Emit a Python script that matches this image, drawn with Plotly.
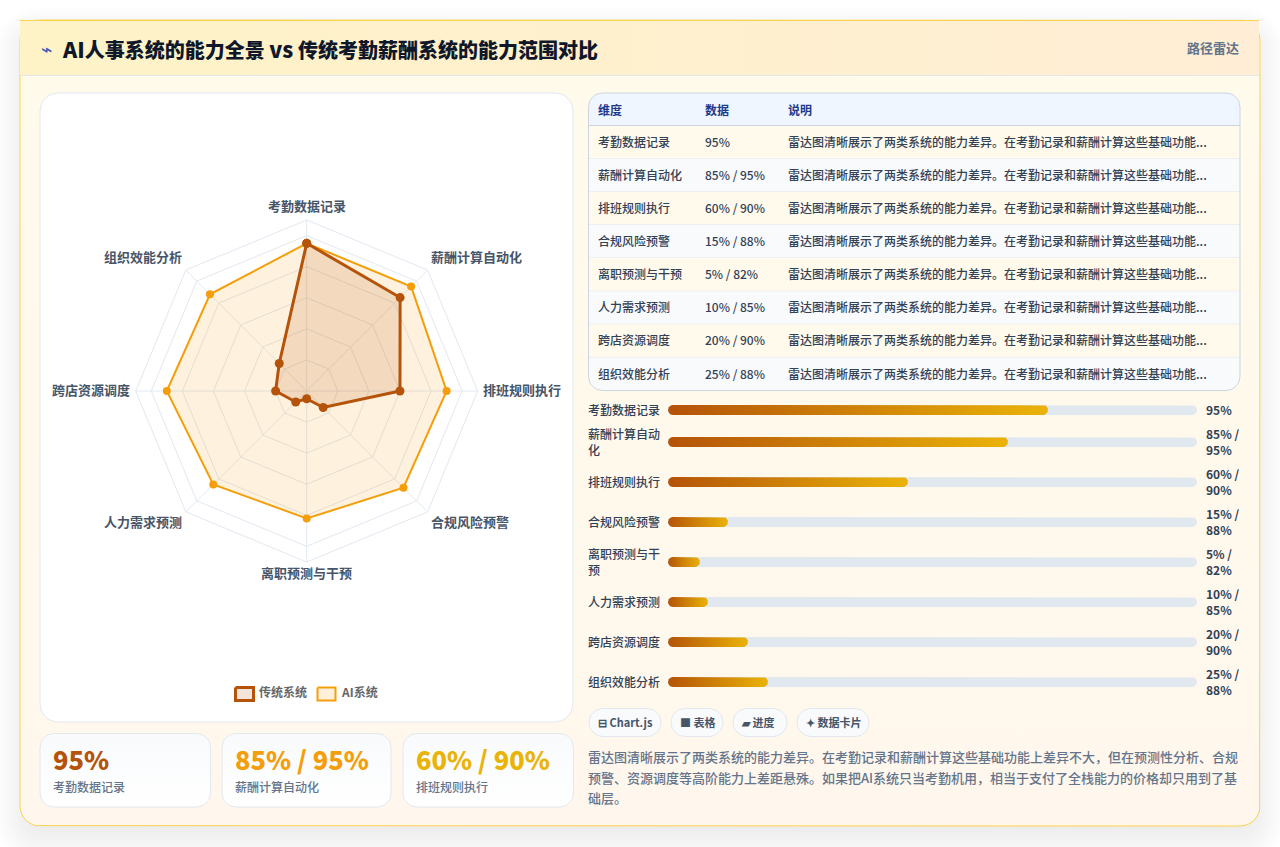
import math
import plotly.graph_objects as go

# Chart data
CATEGORIES = ["考勤数据记录", "薪酬计算自动化", "排班规则执行", "合规风险预警",
              "离职预测与干预", "人力需求预测", "跨店资源调度", "组织效能分析"]
TRADITIONAL = [95, 85, 60, 15, 5, 10, 20, 25]
AI_SYSTEM = [95, 95, 90, 88, 82, 85, 90, 88]
SERIES_NAMES = ["传统系统", "AI系统"]
# the Latin runs are set a touch larger so they balance the CJK weight
TITLE = ('<span style="font-size:21.5px">AI</span>人事系统的能力全景 '
         '<span style="font-size:21.5px">vs</span> 传统考勤薪酬系统的能力范围对比')
BADGE = "路径雷达"
TABLE_HEADERS = ["维度", "数据", "说明"]
NOTE_SHORT = "雷达图清晰展示了两类系统的能力差异。在考勤记录和薪酬计算这些基础功能..."
PARAGRAPH = ["雷达图清晰展示了两类系统的能力差异。在考勤记录和薪酬计算这些基础功能上差异不大，但在预测性分析、合规",
             "预警、资源调度等高阶能力上差距悬殊。如果把AI系统只当考勤机用，相当于支付了全栈能力的价格却只用到了基",
             "础层。"]
CHIPS = [("⊟", "Chart.js"), ("■", "表格"), ("▰", "进度"), ("✦", "数据卡片")]

FONT = "Noto Sans CJK SC"
W, H = 1280, 847
BROWN, ORANGE, YELLOW = "#b45309", "#f59e0b", "#eab308"

VALUE_LABELS = [f"{a}%" if a == b else f"{a}% / {b}%" for a, b in zip(TRADITIONAL, AI_SYSTEM)]
# progress bars wrap their long labels onto two lines
BAR_NAMES = ["考勤数据记录", "薪酬计算自动<br>化", "排班规则执行", "合规风险预警",
             "离职预测与干<br>预", "人力需求预测", "跨店资源调度", "组织效能分析"]
BAR_Y = [410, 442, 482, 522, 562, 602, 642, 682]
BAR_PX_PER_UNIT = 4.0
BAR_MIN_UNITS = 8  # a bar never gets shorter than its rounded caps allow
TRACK_X0, TRACK_X1 = 668, 1197

fig = go.Figure()


def outline(x0, y0, x1, y1, r, corners=(True, True, True, True), xscale=1.0):
    """Closed rounded-rectangle outline: corners are TL, TR, BR, BL."""
    pts = []
    steps = 8
    spec = [(x0, y0, 180, corners[0]), (x1, y0, 270, corners[1]),
            (x1, y1, 0, corners[2]), (x0, y1, 90, corners[3])]
    for cx, cy, start, rounded in spec:
        if not rounded or r == 0:
            pts.append((cx, cy))
            continue
        ox = cx + (r * xscale if cx == x0 else -r * xscale)
        oy = cy + (r if cy == y0 else -r)
        for i in range(steps + 1):
            a = math.radians(start + 90 * i / steps)
            pts.append((ox + r * xscale * math.cos(a), oy + r * math.sin(a)))
    pts.append(pts[0])
    return [p[0] for p in pts], [p[1] for p in pts]


def panel(x0, y0, x1, y1, r, fill=None, line=None, lw=1, corners=(True, True, True, True), grad=None):
    xs, ys = outline(x0, y0, x1, y1, r, corners)
    t = dict(x=xs, y=ys, mode="lines", hoverinfo="skip", showlegend=False, fill="toself",
             line=dict(color=line or "rgba(0,0,0,0)", width=lw if line else 0))
    if grad:
        kind, c0, c1 = grad
        t["fillgradient"] = dict(type=kind, colorscale=[[0, c0], [1, c1]])
    else:
        t["fillcolor"] = fill or "rgba(0,0,0,0)"
    fig.add_trace(go.Scatter(**t))


def hline(x0, x1, y, color, lw=1):
    fig.add_trace(go.Scatter(x=[x0, x1], y=[y, y], mode="lines", hoverinfo="skip", showlegend=False,
                             line=dict(color=color, width=lw)))


notes = []


def text(x, y, s, size, color, weight=400, anchor="left", family=FONT):
    # annotation boxes sit about a pixel low and to the right of the text origin
    dx = {"left": -1, "center": 0, "right": 1}[anchor]
    notes.append(dict(x=x + dx, y=y - 1, xref="x", yref="y", text=s, showarrow=False, xanchor=anchor, yanchor="middle",
                      align="left", borderpad=0, font=dict(family=family, size=size, color=color, weight=weight)))


# soft drop shadow under the card
shadow = []
for i in range(22):
    spread = 26 - 2 * i
    xs, ys = outline(20 - spread, 20 - spread + 12, 1260 + spread, 826 + spread + 12, 20 + max(spread, 0))
    path = "M" + "L".join(f"{a:.1f},{b:.1f}" for a, b in zip(xs, ys)) + "Z"
    shadow.append(dict(type="path", path=path, xref="x", yref="y", layer="below",
                       fillcolor="rgba(15,23,42,0.0042)", line=dict(width=0)))

# card body and header
panel(20, 20, 1260, 826, 20, line="#fcd34d", lw=1, grad=("vertical", "#fff7ed", "#fffbeb"))
panel(20, 20, 1259, 76, 0, grad=("horizontal", "#fef3c7", "#ffedd5"))
hline(20, 1259, 20.5, "#fcd34d")
hline(20, 1260, 75.5, "#e5e7eb")
text(41, 50, "⌁", 19, "#3b5bbd", 700, family="DejaVu Sans")
text(62, 49, TITLE, 20, "#0f172a", 900)
text(1239, 48, BADGE, 13, "#64748b", 700, "right")

# radar panel and legend
panel(40, 93, 573, 722, 18, fill="#ffffff", line="#e2e8f0")
panel(235.5, 687.5, 253.5, 700.5, 0, fill="rgba(180,83,9,0.15)", line=BROWN, lw=3)
panel(317.5, 687.5, 335.5, 700.5, 0, fill="rgba(245,158,11,0.15)", line=ORANGE, lw=2)
text(259, 692, SERIES_NAMES[0], 12, "#666666", 700)
text(341, 692, SERIES_NAMES[1], 12, "#666666", 700)

# radar spoke labels, placed just outside each corner of the outer ring
LABEL_SPOTS = [(306.5, 206, "center"), (431, 257, "left"), (483, 390, "left"), (431, 522, "left"),
               (306.5, 573, "center"), (182, 522, "right"), (130, 390, "right"), (182, 257, "right")]
for name, (x, y, anchor) in zip(CATEGORIES, LABEL_SPOTS):
    text(x, y, name, 13, "#475569", 700, anchor)

# stat cards
CARD_X = [(40, 210.5, 53), (222, 391, 235), (403, 573.5, 416)]
for (x0, x1, tx), value, name, color in zip(CARD_X, VALUE_LABELS, CATEGORIES, [BROWN, ORANGE, YELLOW]):
    panel(x0, 733.5, x1, 807, 14, line="#e2e8f0", grad=("vertical", "#ffffff", "#f8fafc"))
    text(tx, 759, value, 25.5, color, 900)
    text(tx, 787, name, 12, "#64748b", 500)

# table
TX0, TX1 = 588.5, 1240
ROW_H = 33.13
panel(TX0, 93, TX1, 125.5, 14, fill="#eff6ff", corners=(True, True, False, False))
for i in range(8):
    y0 = 125.5 + ROW_H * i
    y1 = y0 + ROW_H
    last = i == 7
    panel(TX0, y0, TX1, y1, 14 if last else 0, fill="#fffaeb" if i % 2 == 0 else "#f8fafc",
          corners=(False, False, last, last))
    if not last:
        hline(TX0, TX1, y1, "#e2e8f0")
hline(TX0, TX1, 125.5, "#cbd5e1")
panel(TX0, 93, TX1, 390.5, 14, line="#cbd5e1")
COL_X = [598, 705, 788]
for x, h in zip(COL_X, TABLE_HEADERS):
    text(x, 110, h, 12, "#1e3a8a", 700)
for i, (name, value) in enumerate(zip(CATEGORIES, VALUE_LABELS)):
    y = 142.2 + ROW_H * i
    text(COL_X[0], y, name, 12, "#334155", 500)
    text(COL_X[1], y, value, 12, "#334155", 500)
    text(COL_X[2], y, NOTE_SHORT, 12, "#334155", 500)

# progress tracks, labels and values
for name, label, y in zip(BAR_NAMES, VALUE_LABELS, BAR_Y):
    panel(TRACK_X0, y - 5, TRACK_X1, y + 5, 5, fill="#e2e8f0")
    text(588, y, name, 12, "#334155", 500)
    text(1206, y, label.replace(" / ", " /<br>"), 12, "#334155", 700)

# chips and closing paragraph
CHIP_X = [(589, 661, 598), (671, 723, 679.5), (733, 787, 741), (797, 869, 806)]
for (x0, x1, tx), (icon, label) in zip(CHIP_X, CHIPS):
    panel(x0, 708.5, x1, 736.5, 14, fill="#f8fafc", line="#e2e8f0")
    text(tx, 722.5, f"{icon} {label}", 11, "#475569", 700)
for y, line in zip([757, 778, 798], PARAGRAPH):
    text(588, y, line, 13, "#64748b", 500)

# progress bars: lengths come straight from the values, on their own x axis
for value, y in zip(TRADITIONAL, BAR_Y):
    length = max(value, BAR_MIN_UNITS)
    xs, ys = outline(0, y - 5, length, y + 5, 5, xscale=1 / BAR_PX_PER_UNIT)
    fig.add_trace(go.Scatter(x=xs, y=ys, xaxis="x2", yaxis="y2", mode="lines", fill="toself",
                             line=dict(width=0, color="rgba(0,0,0,0)"),
                             fillgradient=dict(type="horizontal", colorscale=[[0, BROWN], [1, YELLOW]]),
                             hoverinfo="skip", showlegend=False))

# radar: AI first so the traditional series sits on top
closed_theta = CATEGORIES + CATEGORIES[:1]
fig.add_trace(go.Scatterpolar(r=AI_SYSTEM + AI_SYSTEM[:1], theta=closed_theta, name=SERIES_NAMES[1], fill="toself",
                              fillcolor="rgba(245,158,11,0.13)", mode="lines+markers",
                              line=dict(color=ORANGE, width=2), marker=dict(color=ORANGE, size=8), showlegend=False))
fig.add_trace(go.Scatterpolar(r=TRADITIONAL + TRADITIONAL[:1], theta=closed_theta, name=SERIES_NAMES[0], fill="toself",
                              fillcolor="rgba(180,83,9,0.15)", mode="lines+markers",
                              line=dict(color=BROWN, width=3), marker=dict(color=BROWN, size=9), showlegend=False))

CX, CY, R = 306.7, 391, 171
fig.update_layout(
    width=W, height=H, margin=dict(l=0, r=0, t=0, b=0), autosize=False,
    paper_bgcolor="#ffffff", plot_bgcolor="rgba(0,0,0,0)",
    shapes=shadow, annotations=notes,
    xaxis=dict(range=[0, W], domain=[0, 1], visible=False, fixedrange=True),
    yaxis=dict(range=[H, 0], domain=[0, 1], visible=False, fixedrange=True),
    xaxis2=dict(range=[0, (TRACK_X1 - TRACK_X0) / BAR_PX_PER_UNIT], domain=[TRACK_X0 / W, TRACK_X1 / W],
                visible=False, fixedrange=True, anchor="y2"),
    yaxis2=dict(range=[H, 0], domain=[0, 1], visible=False, fixedrange=True, anchor="x2"),
    polar=dict(
        domain=dict(x=[(CX - R) / W, (CX + R) / W], y=[1 - (CY + R) / H, 1 - (CY - R) / H]),
        bgcolor="rgba(0,0,0,0)", gridshape="linear",
        radialaxis=dict(range=[0, 110], tickvals=[0, 20, 40, 60, 80, 100], showticklabels=False, ticks="",
                        showline=False, gridcolor="#e2e8f0", gridwidth=1),
        angularaxis=dict(type="category", categoryorder="array", categoryarray=CATEGORIES,
                         rotation=90, direction="clockwise", linecolor="#e2e8f0", gridcolor="#e2e8f0",
                         ticks="", showticklabels=False),
    ),
)
fig.write_html("out.html", config=dict(displayModeBar=False))
